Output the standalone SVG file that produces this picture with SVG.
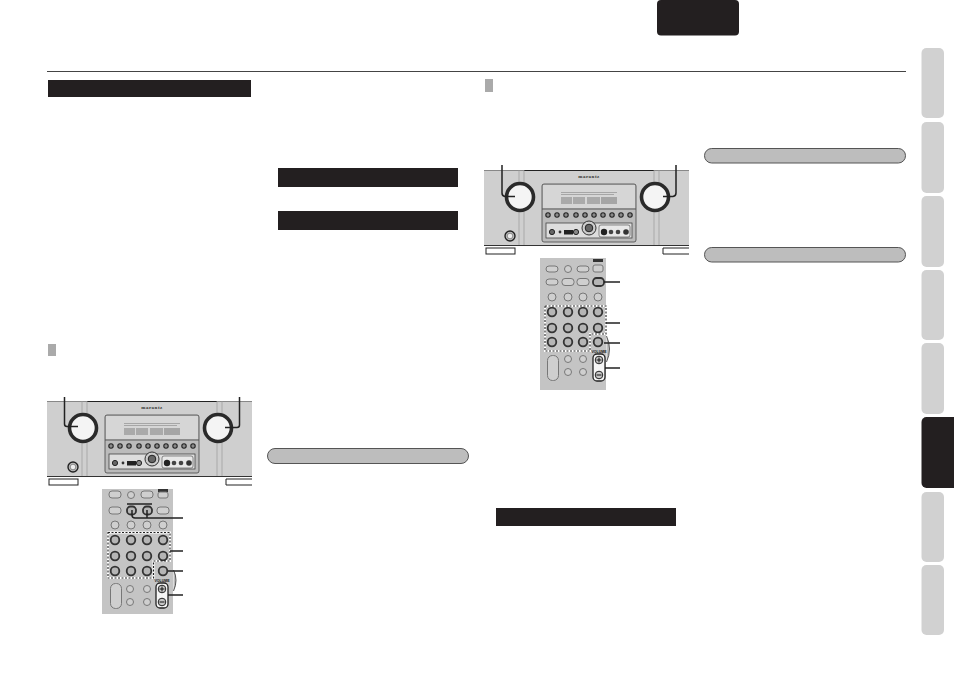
<svg xmlns="http://www.w3.org/2000/svg" width="954" height="674" viewBox="0 0 954 674">
<style>
.d{fill:#231f20}
.tab{fill:#d1d1d1}
.pill{fill:#bdbdbd;stroke:#555;stroke-width:1}
.sq{fill:#aaa}
.lead{fill:none;stroke:#222;stroke-width:1.5}
.dash{fill:none;stroke:#222;stroke-width:1.100;stroke-dasharray:2 1.500}
.dashbg{fill:none;stroke:#fff;stroke-width:2}
.body{fill:#cfcfcf}
.rem{fill:#c4c4c4}
.b{fill:#cfcfcf;stroke:#777;stroke-width:1}
.bd{fill:#b5b5b5;stroke:#333;stroke-width:1.800}
.w{fill:#f5f5f5;stroke:#222;stroke-width:1.300}
.t{font-family:"Liberation Sans",Arial,sans-serif;font-weight:bold}
.k{fill:#f4f4f4;stroke:#2a2a2a;stroke-width:3.600}
</style>
<defs>
<g id="recv">
<rect class="body" width="205" height="76"/>
<path d="M0 0.500H205" stroke="#888" fill="none"/>
<path d="M40 0.500H170" stroke="#222" fill="none"/>
<path d="M35 0V76M40 0V76M170 0V76M175 0V76" stroke="#999" stroke-width=".7" fill="none"/>
<path d="M0 75.500H205" stroke="#333" fill="none"/>
<text x="105" y="7.500" font-size="5" text-anchor="middle" fill="#333" font-weight="bold" font-family="Liberation Serif, serif" letter-spacing=".5">marantz</text>
<rect x="58" y="14" width="94" height="58" rx="2" fill="#bbb" stroke="#444" stroke-width=".8"/>
<rect x="59" y="15" width="92" height="23" fill="#d6d6d6"/>
<rect x="77" y="27" width="11" height="7" fill="#aaa"/><rect x="89" y="27" width="12" height="7" fill="#aaa"/><rect x="103" y="27" width="13" height="7" fill="#aaa"/>
<rect x="117" y="27" width="16" height="7" fill="#a5a5a5"/>
<path d="M77 22.500H133M77 24.500H130" stroke="#999" stroke-width=".8"/>
<path d="M58 39H152" stroke="#444" stroke-width=".8"/>
<g fill="#8a8a8a" stroke="#222" stroke-width="1.100">
<circle cx="64" cy="45" r="2.200"/><circle cx="73" cy="45" r="2.200"/><circle cx="82" cy="45" r="2.200"/><circle cx="92" cy="45" r="2.200"/><circle cx="101" cy="45" r="2.200"/><circle cx="110" cy="45" r="2.200"/><circle cx="119" cy="45" r="2.200"/><circle cx="128" cy="45" r="2.200"/><circle cx="137" cy="45" r="2.200"/><circle cx="146" cy="45" r="2.200"/>
</g>
<rect x="62" y="53" width="86" height="15" fill="#ddd" stroke="#444" stroke-width=".8"/>
<circle cx="68" cy="62" r="2.600" fill="#666" stroke="#222"/>
<circle cx="76" cy="62" r="1.400" fill="#333"/>
<rect x="80" y="60" width="9" height="4.500" fill="#222"/>
<circle cx="92" cy="62" r="2.600" fill="#888" stroke="#222"/>
<circle cx="105" cy="58" r="7" fill="#ccc" stroke="#333"/><circle cx="105" cy="58" r="3.800" fill="#666" stroke="#222"/>
<rect x="115" y="55" width="31" height="12" rx="2" fill="#e8e8e8" stroke="#444" stroke-width=".6"/>
<circle cx="120" cy="62" r="3.200" fill="#222"/><circle cx="127" cy="62" r="2.300" fill="#444"/><circle cx="134" cy="62" r="2.300" fill="#444"/><circle cx="142" cy="62" r="2.800" fill="#333"/>
<circle cx="26" cy="66" r="5" fill="#bbb" stroke="#222" stroke-width="1.400"/><circle cx="26" cy="66" r="2.800" fill="#eee" stroke="#555" stroke-width=".6"/>
<circle class="k" cx="36" cy="27" r="13.500"/>
<circle class="k" cx="171" cy="27" r="13.500"/>
<rect x="2" y="78" width="29" height="6" fill="#fff" stroke="#222"/>
<path d="M179 84V78H205" fill="#fff" stroke="#222"/><path d="M179 84H205" stroke="#222"/>
</g>
</defs>

<g id="header">
<rect class="d" x="657" y="0" width="82" height="35.500" rx="4"/>
<path d="M47 71.500H906" stroke="#444" fill="none"/>
</g>

<g id="section-bars">
<rect class="d" x="48" y="80" width="203" height="17"/>
<rect class="d" x="278" y="168" width="180" height="19"/>
<rect class="d" x="278" y="211" width="180" height="19"/>
<rect class="d" x="496" y="508" width="180" height="18"/>
<rect class="pill" x="267.500" y="448.500" width="201" height="15" rx="7.500"/>
<rect class="pill" x="704.500" y="148.500" width="201" height="14.500" rx="7.200"/>
<rect class="pill" x="704.500" y="247.500" width="201" height="14.500" rx="7.200"/>
<rect class="sq" x="48" y="344" width="8" height="12"/>
<rect class="sq" x="485" y="79" width="8" height="13"/>
</g>

<g id="side-tabs">
<rect class="tab" x="921.500" y="48" width="22.500" height="70" rx="5"/>
<rect class="tab" x="921.500" y="122" width="22.500" height="71" rx="5"/>
<rect class="tab" x="921.500" y="196" width="22.500" height="71" rx="5"/>
<rect class="tab" x="921.500" y="270" width="22.500" height="70" rx="5"/>
<rect class="tab" x="921.500" y="343" width="22.500" height="71" rx="5"/>
<path class="d" d="M954 417H926.500a5 5 0 0 0-5 5V483a5 5 0 0 0 5 5H954Z"/>
<rect class="tab" x="921.500" y="492" width="22.500" height="70" rx="5"/>
<rect class="tab" x="921.500" y="565" width="22.500" height="70" rx="5"/>
</g>

<g id="receiver-1"><use href="#recv" x="47" y="401"/></g>
<g id="receiver-2"><use href="#recv" x="484" y="170"/></g>

<g id="remote-1">
<rect class="rem" x="102" y="489" width="71" height="125"/>
<path d="M173.500 570q5 10 0 21" fill="#bbb" stroke="#333" stroke-width=".8"/>
<rect class="b" x="109" y="491" width="12" height="7" rx="3"/><circle class="b" cx="131" cy="495" r="3.500"/><rect class="b" x="141" y="491" width="12" height="7" rx="3"/><rect x="158" y="489" width="10" height="3" fill="#333"/><rect class="b" x="158" y="492" width="10" height="6" rx="2"/>
<rect class="b" x="109" y="507" width="12" height="7" rx="3"/><rect class="bd" x="127" y="506.500" width="9" height="8" rx="3.500"/><rect class="bd" x="143" y="506.500" width="9" height="8" rx="3.500"/><rect class="b" x="157" y="507" width="12" height="7" rx="3"/>
<circle class="b" cx="115" cy="525" r="4"/><circle class="b" cx="131" cy="525" r="4"/><circle class="b" cx="147" cy="525" r="4"/><circle class="b" cx="163" cy="525" r="4"/>
<path class="dashbg" d="M108 532.500H170V561H153.500V578H108Z"/>
<circle class="bd" cx="115" cy="540" r="4.300"/><circle class="bd" cx="131" cy="540" r="4.300"/><circle class="bd" cx="147" cy="540" r="4.300"/><circle class="bd" cx="163" cy="540" r="4.300"/>
<circle class="bd" cx="115" cy="556" r="4.300"/><circle class="bd" cx="131" cy="556" r="4.300"/><circle class="bd" cx="147" cy="556" r="4.300"/><circle class="bd" cx="163" cy="556" r="4.300"/>
<circle class="bd" cx="115" cy="571" r="4.300"/><circle class="bd" cx="131" cy="571" r="4.300"/><circle class="bd" cx="147" cy="571" r="4.300"/><circle class="bd" cx="163" cy="571" r="4.300"/>
<rect class="b" x="110.500" y="583.500" width="11" height="25" rx="5"/>
<circle class="b" cx="130" cy="589" r="3.500"/><circle class="b" cx="147" cy="589" r="3.500"/><circle class="b" cx="130" cy="602" r="3.500"/><circle class="b" cx="147" cy="602" r="3.500"/>
<text class="t" x="162" y="581.500" font-size="3.500" text-anchor="middle" fill="#111">VOLUME</text>
<rect class="w" x="156" y="583" width="12" height="25" rx="4"/>
<circle cx="162" cy="589" r="3.800" fill="#c8c8c8" stroke="#222"/><circle cx="162" cy="602" r="3.800" fill="#c8c8c8" stroke="#222"/>
<path d="M159.500 589h5M162 586.500v5M159.500 602h5" stroke="#111" fill="none"/>
</g>

<g id="remote-2">
<rect class="rem" x="540" y="258" width="66" height="132"/>
<path d="M606.500 336q6 13 0 26" fill="#bbb" stroke="#333" stroke-width=".8"/>
<rect class="b" x="546" y="266" width="12" height="6" rx="3"/><circle class="b" cx="568" cy="269" r="3.500"/><rect class="b" x="577" y="266" width="12" height="6" rx="3"/><rect x="593" y="259" width="10" height="3" fill="#333"/><rect class="b" x="593" y="265" width="10" height="7" rx="2"/>
<rect class="b" x="546" y="279" width="12" height="6" rx="3"/><rect class="b" x="562" y="278.500" width="12" height="7" rx="3"/><rect class="b" x="577" y="278.500" width="12" height="7" rx="3"/><rect class="bd" x="593" y="278" width="11" height="8" rx="3.500"/>
<circle class="b" cx="552" cy="297" r="4"/><circle class="b" cx="568" cy="297" r="4"/><circle class="b" cx="583" cy="297" r="4"/><circle class="b" cx="598" cy="297" r="4"/>
<path class="dashbg" d="M545 306H606V334H590V351H545Z"/>
<circle class="bd" cx="552" cy="312" r="4.300"/><circle class="bd" cx="568" cy="312" r="4.300"/><circle class="bd" cx="583" cy="312" r="4.300"/><circle class="bd" cx="598" cy="312" r="4.300"/>
<circle class="bd" cx="552" cy="328" r="4.300"/><circle class="bd" cx="568" cy="328" r="4.300"/><circle class="bd" cx="583" cy="328" r="4.300"/><circle class="bd" cx="598" cy="328" r="4.300"/>
<circle class="bd" cx="552" cy="342" r="4.300"/><circle class="bd" cx="568" cy="342" r="4.300"/><circle class="bd" cx="583" cy="342" r="4.300"/><circle class="bd" cx="598" cy="342" r="4.300"/>
<rect class="b" x="547.500" y="355.500" width="11" height="25" rx="5"/>
<circle class="b" cx="568" cy="359" r="3.500"/><circle class="b" cx="583" cy="359" r="3.500"/><circle class="b" cx="568" cy="372" r="3.500"/><circle class="b" cx="583" cy="372" r="3.500"/>
<text class="t" x="599" y="352.500" font-size="3.500" text-anchor="middle" fill="#111">VOLUME</text>
<rect class="w" x="593" y="354" width="12" height="27" rx="4"/>
<circle cx="599" cy="360" r="3.800" fill="#c8c8c8" stroke="#222"/><circle cx="599" cy="375" r="3.800" fill="#c8c8c8" stroke="#222"/>
<path d="M596.500 360h5M599 357.500v5M596.500 375h5" stroke="#111" fill="none"/>
</g>

<g id="connectors">
<path class="lead" d="M64.500 397V424q0 2.500 2.500 2.500H78"/>
<path class="lead" d="M239.500 397V425q0 2.500-2.500 2.500H225"/>
<path class="lead" d="M502 165V193q0 3 3 3.500H515"/>
<path class="lead" d="M676 165V193q0 3-3 3.500H663"/>
<path class="lead" d="M127 504H152M132 510V515q0 3 3 3H183M147 510V518"/>
<path class="lead" d="M170 551H183M168 571H183M168 595H183"/>
<path class="dash" d="M108 532.500H170V561H153.500V578H108Z"/>
<path class="lead" d="M604 282H620M606 323H620M604 343H620M605 368H620"/>
<path class="dash" d="M545 306H606V334H590V351H545Z"/>
</g>
</svg>
